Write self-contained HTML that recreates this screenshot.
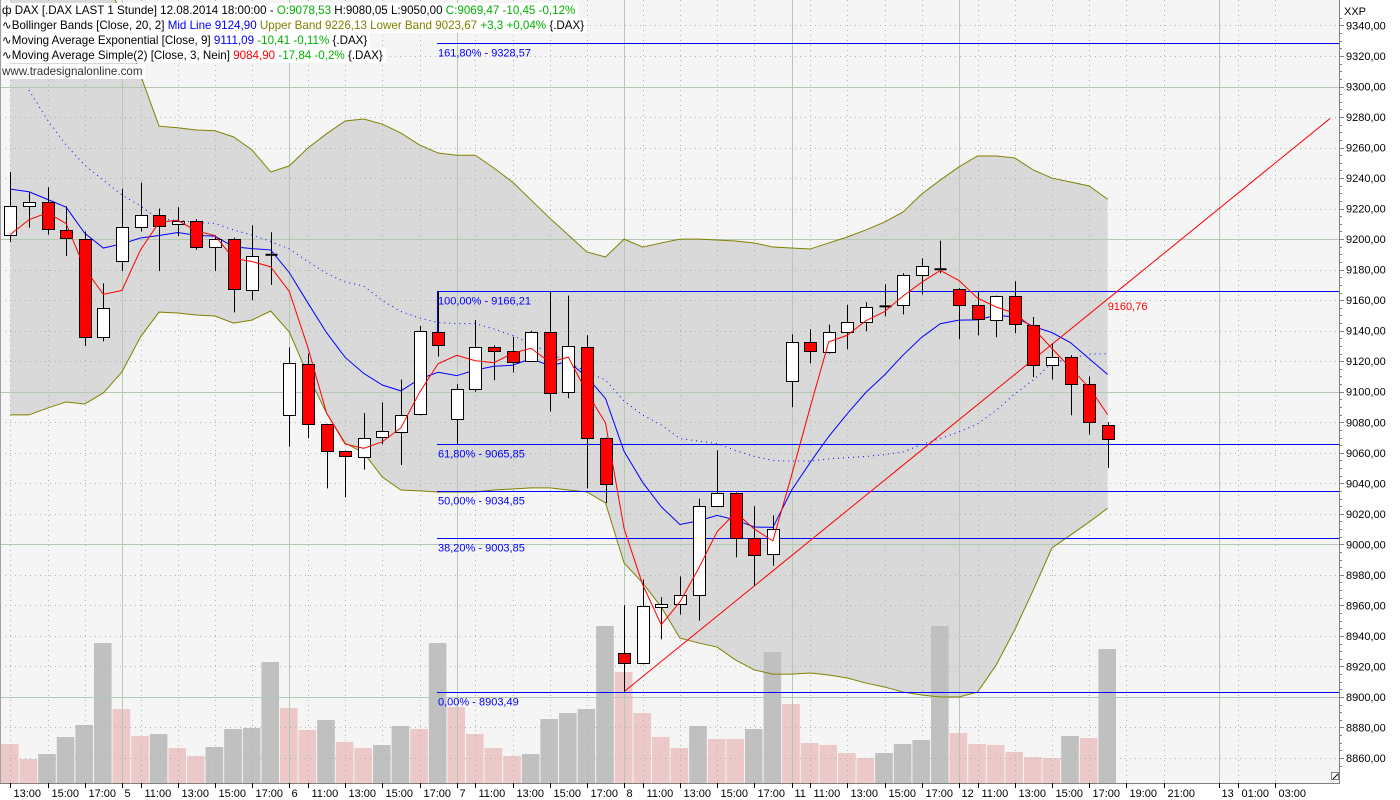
<!DOCTYPE html>
<html><head><meta charset="utf-8"><style>
html,body{margin:0;padding:0;background:#fff;}
#wrap{position:relative;width:1400px;height:800px;overflow:hidden;font-family:"Liberation Sans",sans-serif;}
svg{position:absolute;left:0;top:0;}
.lg{position:absolute;left:2px;height:15px;line-height:15px;font-size:11.6px;background:#fff;white-space:nowrap;padding-right:3px;color:#000;}
</style></head><body>
<div id="wrap">
<svg id="chart" width="1400" height="800"></svg>
<div class="lg" style="top:3px">ф DAX [.DAX LAST 1 Stunde] 12.08.2014 18:00:00 - <span style="color:#00b000">O:9078,53</span> H:9080,05 L:9050,00 <span style="color:#00b000">C:9069,47 -10,45 -0,12%</span></div>
<div class="lg" style="top:18px">∿Bollinger Bands [Close, 20, 2] <span style="color:#0000ff">Mid Line 9124,90</span> <span style="color:#808000">Upper Band 9226,13 Lower Band 9023,67</span> <span style="color:#00b000">+3,3 +0,04%</span> {.DAX}</div>
<div class="lg" style="top:33px">∿Moving Average Exponential [Close, 9] <span style="color:#0000ff">9111,09</span> <span style="color:#00b000">-10,41 -0,11%</span> {.DAX}</div>
<div class="lg" style="top:48px">∿Moving Average Simple(2) [Close, 3, Nein] <span style="color:#ff0000">9084,90</span> <span style="color:#00b000">-17,84 -0,2%</span> {.DAX}</div>
<div class="lg" style="top:64px;color:#333">www.tradesignalonline.com</div>
</div>
<script>
const opens=[9203,9221.5,9224,9206,9200,9136,9186,9208,9216,9210,9212,9195,9200,9166.5,9190,9084.6,9118,9078.7,9061,9057.7,9070,9074,9085.2,9139,9082,9101.6,9129,9127,9120,9139,9099.6,9129,9069.5,8928.6,8922,8958.8,8960.7,8966.6,9025,9033.4,9004,8993.5,9106.8,9132.4,9125.8,9139,9145.5,9155.3,9156.6,9176.3,9180.5,9167,9156.6,9146.8,9162.5,9144,9118,9123,9105,9078.53];
const highs=[9244,9231,9234,9221.5,9205,9171,9233,9237,9220,9221,9213,9202.5,9201,9209,9204.5,9129,9125,9079,9061.5,9086,9093,9108,9143,9166,9105,9147,9130.4,9136,9140,9166,9163,9137,9070,8960,8977,8965.3,8979,9030,9061.6,9034,9025,9019,9137.6,9141,9144,9157,9158.6,9170.4,9177.6,9187.4,9199,9168,9165.8,9163,9172.4,9149,9131.7,9124,9110,9080.05];
const lows=[9198,9207.5,9203,9189,9130,9133,9179,9205,9179,9202,9193,9179,9152,9160,9170,9064,9069.5,9036.7,9030.8,9049,9065.6,9052,9084.5,9123,9065.6,9100,9107.5,9112.7,9119.5,9087,9095.7,9036.7,9027,8903.49,8921.4,8937.8,8954,8950,9024.3,8991.5,8973,8986,9089.8,9118.6,9125,9127.8,9139.6,9149.4,9150.7,9163.8,9177.6,9134.4,9137,9135.7,9138.3,9109.5,9108,9084.6,9072,9050];
const closes=[9222,9224,9206,9200.5,9136,9155,9208,9216,9209,9212,9195,9200,9167,9189,9189.5,9118.6,9078.7,9061,9057.7,9070,9074,9085,9139.6,9130.4,9101.6,9129,9126.5,9120,9139,9099,9130,9069.5,9039.3,8922,8959.4,8960.7,8966.6,9025,9033.4,9004,8992.8,9010,9132.4,9126.5,9139,9145.5,9155.3,9156.6,9176.3,9182.2,9180,9156.6,9147.5,9162.5,9144.2,9118,9123,9105.5,9080,9069.47];
const volumes=[39,24,29,46,58,140,74,47,49,35,27,36,54,55,121,75,53,63,41,35,38,57,54,140,76,49,35,27,29,64,70,74,157,111,70,46,35,57,44,44,54,131,79,40,38,30,25,30,39,43,157,50,39,38,31,26,25,47,45,134];
const upperBand=[9553,9510.7,9466.8,9430,9405,9378,9345,9307.5,9274,9273,9271.5,9271,9267,9258.4,9244,9248,9259.7,9269,9277.4,9278.7,9275.4,9269.5,9261.7,9256.4,9255,9255,9246.6,9237.4,9225.6,9213.8,9202.7,9191.6,9188.3,9200,9194.8,9197.5,9200,9200,9199.4,9198.8,9197.5,9194.8,9194.2,9193.5,9197.5,9201.4,9206,9211.2,9217.8,9229.6,9238.7,9247.3,9254.5,9254.5,9253.2,9245.3,9240,9237.4,9234.8,9226.13];
const lowerBand=[9084.8,9084.8,9089.3,9093.3,9092,9099.2,9112.9,9135.9,9152.2,9151.6,9150.3,9149.6,9145,9147,9152.9,9139.1,9111,9086.1,9066.4,9059.9,9044.1,9035.6,9035,9034.3,9034.3,9034.3,9035.6,9036.3,9037,9037,9035.6,9034.3,9027.1,8987.8,8974.7,8958.9,8938.6,8935.4,8932.7,8924.2,8917.7,8915,8915,8915.7,8914.4,8912.4,8909.1,8906.5,8903.2,8901.3,8900,8900,8903.2,8920.9,8943.9,8970.1,8997.6,9006.1,9014.6,9023.67];
const priorCloses=[9195,9192];
const emaSeed=9232.8;
const priceTicks=[9340,9320,9300,9280,9260,9240,9220,9200,9180,9160,9140,9120,9100,9080,9060,9040,9020,9000,8980,8960,8940,8920,8900,8880,8860];
const timeTickSlots=[0,2,4,6,7,9,11,13,15,16,18,20,22,24,25,27,29,31,33,34,36,38,40,42,43,45,47,49,51,52,54,56,58,60,62,65,66,68];
const timeTickLabels=["13:00","15:00","17:00","5","11:00","13:00","15:00","17:00","6","11:00","13:00","15:00","17:00","7","11:00","13:00","15:00","17:00","8","11:00","13:00","15:00","17:00","11","11:00","13:00","15:00","17:00","12","11:00","13:00","15:00","17:00","19:00","21:00","13","01:00","03:00"];
const daySlots=[6,15,24,33,42,51,65];
const fibHigh=9166.21, fibLow=8903.49;
const fibPcts=[161.8,100,61.8,50,38.2,0];
const trendStart=[33,8903.49], trendEnd=[70.95,9279];

const NS="http://www.w3.org/2000/svg";
const svg=document.getElementById('chart');
const PL=0,PR=1339,PB=783;
function yP(v){return 758-(v-8860)*1.5261;}
function xS(i){return 10.3+i*18.6;}
function yV(v){return PB-v;}
function fmt(v){return v.toFixed(2).replace('.',',');}
function mk(tag,attrs,parent){const e=document.createElementNS(NS,tag);for(const k in attrs)e.setAttribute(k,attrs[k]);(parent||svg).appendChild(e);return e;}

const defs=mk('defs',{});
const cp=mk('clipPath',{id:'plotclip'},defs);mk('rect',{x:0,y:0,width:PR,height:PB},cp);

const bg=mk('rect',{x:0,y:0,width:PR,height:PB,fill:'#f5f5f5'});



const plot=mk('g',{'clip-path':'url(#plotclip)'});



let pts=[];
for(let i=0;i<upperBand.length;i++)pts.push(xS(i)+','+yP(upperBand[i]));
for(let i=lowerBand.length-1;i>=0;i--)pts.push(xS(i)+','+yP(lowerBand[i]));
const shade=mk('polygon',{points:pts.join(' '),fill:'#d9d9d9'},plot);



const vg=mk('g',{},plot);


for(let i=0;i<volumes.length;i++){
  const up=i>0&&volumes[i]>volumes[i-1];
  const r=mk('rect',{x:xS(i)-9.3,y:yV(volumes[i]),width:17.6,height:volumes[i],fill:up?'#c0c0c0':'#ecc8c8'},vg);
  
  
}

const gg=mk('g',{},plot);


priceTicks.forEach(v=>{
  const y=Math.round(yP(v))+0.5;
  const solid=Math.round(v)%100===0;
  const l=mk('line',{x1:0,x2:PR,y1:y,y2:y,stroke:solid?'#b4c8b4':'#a9b9a9','stroke-width':1,'stroke-dasharray':solid?'':'1,4'},gg);
  
  
});
timeTickSlots.forEach(s=>{
  const x=Math.round(xS(s))+0.5;
  const solid=daySlots.includes(s);
  const l=mk('line',{x1:x,x2:x,y1:0,y2:PB,stroke:solid?'#b4c8b4':'#a9b9a9','stroke-width':1,'stroke-dasharray':solid?'':'1,4'},gg);
  
  
});

function poly(vals,start,color,dash,name){
  const p=[];for(let i=start;i<vals.length;i++)p.push(xS(i)+','+yP(vals[i]));
  const e=mk('polyline',{points:p.join(' '),fill:'none',stroke:color,'stroke-width':1,'stroke-dasharray':dash||''},plot);
  
  
}
poly(upperBand,0,'#808000','','bollinger-upper-band');
poly(lowerBand,0,'#808000','','bollinger-lower-band');
const mid=upperBand.map((u,i)=>(u+lowerBand[i])/2);
poly(mid,1,'#0000ff','1,4','bollinger-mid-line');

fibPcts.forEach(p=>{
  const v=fibLow+(fibHigh-fibLow)*p/100;
  const y=Math.round(yP(v))+0.5;
  const l=mk('line',{x1:437,x2:PR,y1:y,y2:y,stroke:'#0000ff','stroke-width':1},plot);
  
  
  const t=mk('text',{x:438,y:y+13,fill:'#0000ff','font-size':11,'font-family':'Liberation Sans, sans-serif'},plot);
  t.textContent=p.toFixed(2).replace('.',',')+'% - '+fmt(v);
  
  
});
{const y=yP(fibHigh);
const l=mk('line',{x1:437.5,x2:437.5,y1:y,y2:yP(9139),stroke:'#0000ff','stroke-width':1},plot);

}

const ema=[];closes.forEach((c,i)=>{ema.push(i===0?emaSeed:ema[i-1]*0.8+c*0.2);});
poly(ema,0,'#0000ff','','ema-9-line');
const allC=priorCloses.concat(closes);
const sma=closes.map((c,i)=>(allC[i]+allC[i+1]+allC[i+2])/3);

{const x1=xS(trendStart[0]),y1=yP(trendStart[1]),x2=xS(trendEnd[0]),y2=yP(trendEnd[1]);
const l=mk('line',{x1:x1,y1:y1,x2:x2,y2:y2,stroke:'#ff0000','stroke-width':1},plot);


const s=59;const v=trendStart[1]+(trendEnd[1]-trendStart[1])*(s-trendStart[0])/(trendEnd[0]-trendStart[0]);
const t=mk('text',{x:xS(s),y:yP(v)+11,fill:'#ff0000','font-size':11,'font-family':'Liberation Sans, sans-serif'},plot);
t.textContent=fmt(v);

}

const cg=mk('g',{},plot);


for(let i=0;i<closes.length;i++){
  const x=Math.round(xS(i))+0.5;
  const w=mk('line',{x1:x,x2:x,y1:yP(highs[i]),y2:yP(lows[i]),stroke:'#000','stroke-width':1},cg);
  
  
  const o=opens[i],c=closes[i];
  const top=yP(Math.max(o,c)),bot=yP(Math.min(o,c));
  let b;
  if(bot-top<2){
    b=mk('rect',{x:x-6,y:(top+bot)/2-1,width:12,height:2,fill:'#000'},cg);
  }else{
    b=mk('rect',{x:x-6,y:Math.round(top)+0.5,width:12,height:Math.round(bot-top),fill:c>=o?'#ffffff':'#ff0000',stroke:'#000','stroke-width':1},cg);
  }
  
  
}
poly(sma,0,'#ff0000','','sma-3-line');

const bd=mk('path',{d:'M'+(PR+0.5)+',0 V'+(PB+0.5)+' H0',fill:'none',stroke:'#808080','stroke-width':1});


const lb=mk('line',{x1:0.5,x2:0.5,y1:0,y2:PB,stroke:'#a0a0a0','stroke-width':1});



const ya=mk('g',{'font-size':11,'font-family':'Liberation Sans, sans-serif',fill:'#000'});


for(let v=8855;v<=9345;v+=5){
  const y=Math.round(yP(v))+0.5;if(y<2||y>PB)continue;
  mk('line',{x1:PR,x2:PR+(v%20===0?5:3),y1:y,y2:y,stroke:'#808080'},ya);
}
priceTicks.forEach(v=>{
  const y=yP(v);if(y<10)return;
  const t=mk('text',{x:1346,y:y+4},ya);
  t.textContent=fmt(v);
  
  
});
{const t=mk('text',{x:1344,y:15},ya);t.textContent='XXP';

}

const xa=mk('g',{'font-size':11,'font-family':'Liberation Sans, sans-serif',fill:'#000'});


timeTickSlots.forEach((s,k)=>{
  const x=Math.round(xS(s))+0.5;
  mk('line',{x1:x,x2:x,y1:PB,y2:PB+5,stroke:'#000'},xa);
  const t=mk('text',{x:x+(timeTickLabels[k].length<3?2:3),y:797},xa);
  t.textContent=timeTickLabels[k];
  
  
});
const rz=mk('g',{});


mk('rect',{x:1331.5,y:772.5,width:7,height:7,fill:'#fff',stroke:'#808080'},rz);
mk('line',{x1:1333,y1:779,x2:1338,y2:774,stroke:'#000'},rz);
</script>
</body></html>
